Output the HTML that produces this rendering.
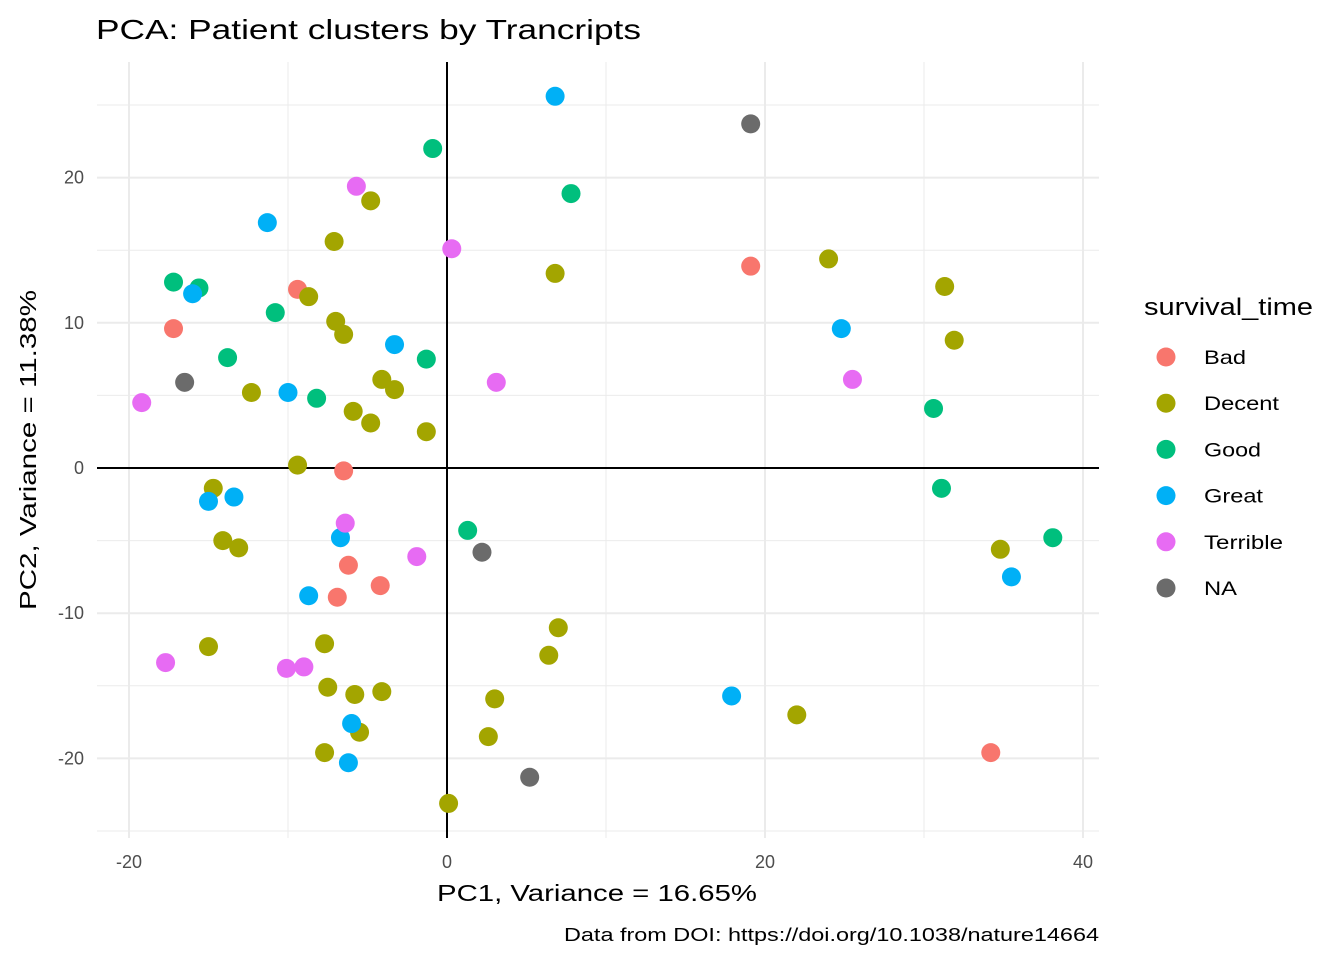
<!DOCTYPE html>
<html><head><meta charset="utf-8"><style>
body{margin:0;background:#fff;font-family:"Liberation Sans",sans-serif}
</style></head><body>
<svg id="c" width="1344" height="960" xmlns="http://www.w3.org/2000/svg" style="font-family:'Liberation Sans',sans-serif">
<text x="96" y="39" font-size="28" fill="#000" textLength="545" lengthAdjust="spacingAndGlyphs">PCA: Patient clusters by Trancripts</text>
<g id="grid"></g><g id="pts"></g><g id="leg"></g>
<text x="437" y="901" font-size="23" textLength="320" lengthAdjust="spacingAndGlyphs">PC1, Variance = 16.65%</text>
<text transform="translate(36,610) rotate(-90)" font-size="23" textLength="320" lengthAdjust="spacingAndGlyphs">PC2, Variance = 11.38%</text>
<text x="564" y="941" font-size="18" textLength="535" lengthAdjust="spacingAndGlyphs">Data from DOI: https://doi.org/10.1038/nature14664</text>
</svg>
<script>
const groups=["Bad","Decent","Good","Great","Terrible","NA"];
const colors=["#F8766D","#A3A500","#00BF7D","#00B0F6","#E76BF3","#6b6b6b"];
const legendWidths=[42,75,57,59,79,33];
const xTicks=[-20,0,20,40];
const yTicks=[-20,-10,0,10,20];
const badX=[19.1,-9.4,-17.2,-6.5,-6.2,-4.2,-6.9,34.2];
const badY=[13.9,12.3,9.6,-0.2,-6.7,-8.1,-8.9,-19.6];
const decentX=[-4.8,-7.1,6.8,24.0,31.3,-8.7,-7.0,-6.5,31.9,-4.1,-3.3,-12.3,-5.9,-4.8,-1.3,-9.4,-14.7,-14.1,-13.1,34.8,7.0,6.4,-15.0,-7.7,-7.5,-5.8,-4.1,3.0,22.0,-5.5,2.6,-7.7,0.1];
const decentY=[18.4,15.6,13.4,14.4,12.5,11.8,10.1,9.2,8.8,6.1,5.4,5.2,3.9,3.1,2.5,0.2,-1.4,-5.0,-5.5,-5.6,-11.0,-12.9,-12.3,-12.1,-15.1,-15.6,-15.4,-15.9,-17.0,-18.2,-18.5,-19.6,-23.1];
const goodX=[-0.9,7.8,-17.2,-15.6,-10.8,-13.8,-1.3,-8.2,30.6,31.1,1.3,38.1];
const goodY=[22.0,18.9,12.8,12.4,10.7,7.6,7.5,4.8,4.1,-1.4,-4.3,-4.8];
const greatX=[6.8,-11.3,-16.0,24.8,-3.3,-10.0,-15.0,-13.4,-6.7,-8.7,35.5,17.9,-6.0,-6.2];
const greatY=[25.6,16.9,12.0,9.6,8.5,5.2,-2.3,-2.0,-4.8,-8.8,-7.5,-15.7,-17.6,-20.3];
const terribleX=[-5.7,0.3,3.1,25.5,-19.2,-6.4,-1.9,-17.7,-10.1,-9.0];
const terribleY=[19.4,15.1,5.9,6.1,4.5,-3.8,-6.1,-13.4,-13.8,-13.7];
const naX=[19.1,-16.5,2.2,5.2];
const naY=[23.7,5.9,-5.8,-21.3];
const seriesX=[badX,decentX,goodX,greatX,terribleX,naX];
const seriesY=[badY,decentY,goodY,greatY,terribleY,naY];
const sx=v=>447+v*15.9, sy=v=>468-v*14.52;
const L=97,R=1099,T=62,B=838,NS="http://www.w3.org/2000/svg";
function mk(p,t,a){const e=document.createElementNS(NS,t);for(const k in a)e.setAttribute(k,a[k]);p.appendChild(e);return e;}
const g=document.getElementById('grid');
for(let v=-20;v<=40;v+=10){const l=mk(g,'line',{x1:sx(v),x2:sx(v),y1:T,y2:B,stroke:'#ebebeb','stroke-width':xTicks.includes(v)?2:1});

}
for(let v=-25;v<=25;v+=5){const l=mk(g,'line',{x1:L,x2:R,y1:sy(v),y2:sy(v),stroke:'#ebebeb','stroke-width':yTicks.includes(v)?2:1});

}
xTicks.forEach(v=>{const t=mk(g,'text',{x:sx(v),y:868,'font-size':18,'text-anchor':'middle',fill:'#4d4d4d'});t.textContent=v;

});
yTicks.forEach(v=>{const t=mk(g,'text',{x:84,y:sy(v)+6,'font-size':18,'text-anchor':'end',fill:'#4d4d4d'});t.textContent=v;

});
const z1=mk(g,'line',{x1:sx(0),x2:sx(0),y1:T,y2:B,stroke:'#000','stroke-width':2});


const z2=mk(g,'line',{x1:L,x2:R,y1:sy(0),y2:sy(0),stroke:'#000','stroke-width':2});


const p=document.getElementById('pts');
seriesX.forEach((xs,i)=>xs.forEach((x,j)=>{const c=mk(p,'circle',{cx:sx(x),cy:sy(seriesY[i][j]),r:9.5,fill:colors[i]});

}));
const lg=document.getElementById('leg');
const lt=mk(lg,'text',{x:1144,y:315,'font-size':24,textLength:169,lengthAdjust:'spacingAndGlyphs'});lt.textContent='survival_time';


groups.forEach((n,i)=>{const y=357+i*46.2;
const c=mk(lg,'circle',{cx:1166,cy:y,r:9.5,fill:colors[i]});


const t=mk(lg,'text',{x:1204,y:y+7,'font-size':19.5,textLength:legendWidths[i],lengthAdjust:'spacingAndGlyphs'});t.textContent=n;

});
</script>
</body></html>
